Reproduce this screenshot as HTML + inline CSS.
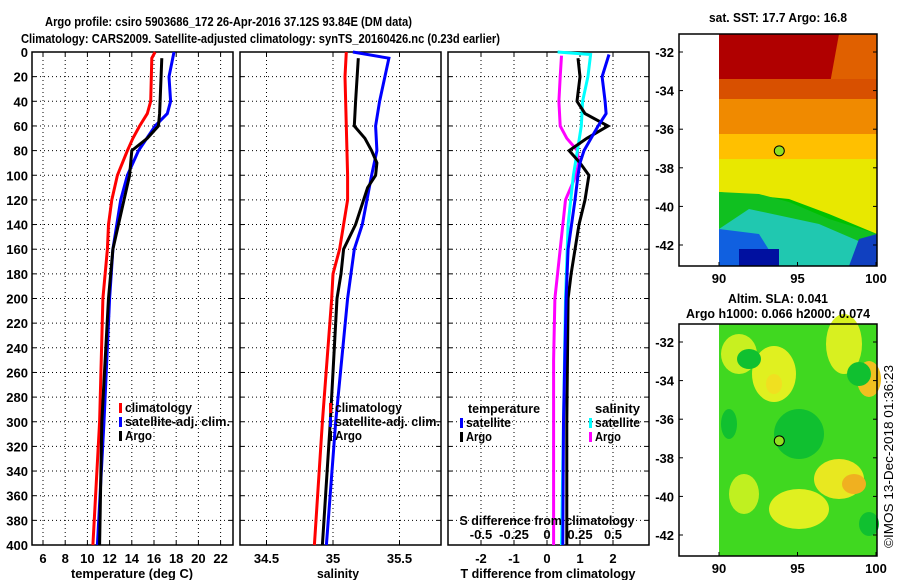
<!DOCTYPE html>
<html><head><meta charset="utf-8"><style>
html,body{margin:0;padding:0;background:#fff;}
svg{display:block;font-family:"Liberation Sans",Arial,sans-serif;}
text{font-size:13px;font-weight:bold;fill:#000;}
</style></head><body>
<svg id="fig" width="900" height="580" viewBox="0 0 900 580" xmlns="http://www.w3.org/2000/svg">
<text x="45" y="26" textLength="367" lengthAdjust="spacingAndGlyphs">Argo profile: csiro 5903686_172 26-Apr-2016 37.12S 93.84E (DM data)</text>
<text x="21" y="43" textLength="479" lengthAdjust="spacingAndGlyphs">Climatology: CARS2009. Satellite-adjusted climatology: synTS_20160426.nc (0.23d earlier)</text>
<g id="maps"></g>
<g id="plots"></g>
</svg>
<script>
// ---- data ----
const depthTicks=[0,20,40,60,80,100,120,140,160,180,200,220,240,260,280,300,320,340,360,380,400];
const tTicks=[6,8,10,12,14,16,18,20,22];
const sTicks=[34.5,35,35.5];
const dTTicks=[-2,-1,0,1,2];
const dSTicks=[-0.5,-0.25,0,0.25,0.5];
const dSTickLabels=["-0.5","-0.25","0","0.25","0.5"];
const tClimDepth=[0,5,40,50,60,70,80,100,120,140,160,200,300,400];
const tClim=[16.1,15.8,15.7,15.4,14.7,14.1,13.6,12.7,12.2,11.9,11.8,11.4,11.1,10.5];
const tArgoDepth=[5,50,60,70,80,100,120,160,200,300,400];
const tArgo=[16.7,16.5,16.4,15.4,14.0,13.8,13.3,12.3,11.9,11.3,11.1];
const tSatDepth=[0,20,40,50,60,80,100,120,160,200,300,400];
const tSat=[17.8,17.35,17.5,17.2,16.1,14.6,13.6,13.0,12.3,12.0,11.5,10.9];
const sClimDepth=[0,20,100,120,160,180,200,300,400];
const sClim=[35.10,35.09,35.11,35.11,35.05,35.0,34.99,34.92,34.86];
const sArgoDepth=[5,40,60,70,80,90,100,110,140,160,180,200,300,400];
const sArgo=[35.19,35.17,35.16,35.24,35.29,35.33,35.32,35.26,35.17,35.08,35.06,35.03,34.98,34.92];
const sSatDepth=[0,5,20,40,60,80,100,140,160,200,300,400];
const sSat=[35.15,35.42,35.39,35.35,35.32,35.33,35.29,35.22,35.16,35.11,35.02,34.95];
const dTSatDepth=[2,20,40,50,60,80,90,100,120,160,200,300,400];
const dTSat=[1.88,1.67,1.76,1.79,1.55,1.12,1.0,0.94,0.85,0.64,0.58,0.5,0.48];
const dTArgoDepth=[5,20,40,50,60,70,80,90,100,120,140,180,200,300,400];
const dTArgo=[0.94,1.0,0.91,1.15,1.85,1.21,0.67,1.0,1.27,1.15,0.97,0.73,0.64,0.6,0.6];
const dSSatDepth=[0,2,20,40,60,80,100,140,200,400];
const dSSat=[0.08,0.33,0.31,0.27,0.26,0.23,0.2,0.16,0.14,0.11];
const dSArgoDepth=[3,20,40,60,70,80,90,100,120,160,200,250,400];
const dSArgo=[0.11,0.10,0.09,0.10,0.15,0.23,0.24,0.22,0.14,0.10,0.06,0.05,0.05];
const latTicks=[-32,-34,-36,-38,-40,-42];
const lonTicks=[90,95,100];

const NS="http://www.w3.org/2000/svg";
function mk(parent,tag,attrs,txt){const e=document.createElementNS(NS,tag);for(const k in attrs)e.setAttribute(k,attrs[k]);if(txt!==undefined)e.textContent=txt;parent.appendChild(e);return e;}
const plots=document.getElementById('plots');
const Y0=52, Y1=545;
const yD=d=>Y0+(d/400)*(Y1-Y0);
const xT=v=>43+(v-6)*11.1;
const xS=v=>333+(v-35)*133;
const xDT=v=>547+v*33;
const xDS=v=>547+v*132;

function panel(name,x0,x1,vTicksPx){
  const g=mk(plots,'g',{});
  
  
  depthTicks.forEach(d=>{const y=yD(d);
    if(d>0&&d<400){const l=mk(g,'line',{x1:x0,x2:x1,y1:y,y2:y,stroke:'#000','stroke-width':1,'stroke-dasharray':'1,3'});}
    mk(g,'line',{x1:x0,x2:x0+4,y1:y,y2:y,stroke:'#000'});mk(g,'line',{x1:x1-4,x2:x1,y1:y,y2:y,stroke:'#000'});
  });
  vTicksPx.forEach(x=>{const l=mk(g,'line',{x1:x,x2:x,y1:Y0,y2:Y1,stroke:'#000','stroke-width':1,'stroke-dasharray':'1,3'});
    mk(g,'line',{x1:x,x2:x,y1:Y1,y2:Y1-4,stroke:'#000'});mk(g,'line',{x1:x,x2:x,y1:Y0,y2:Y0+4,stroke:'#000'});});
  const r=mk(g,'rect',{x:x0,y:Y0,width:x1-x0,height:Y1-Y0,fill:'none',stroke:'#000','stroke-width':1.5});
  
  return g;
}
function line(g,name,depths,vals,xf,color){
  const pts=depths.map((d,i)=>xf(vals[i]).toFixed(1)+','+yD(d).toFixed(1)).join(' ');
  const p=mk(g,'polyline',{points:pts,fill:'none',stroke:color,'stroke-width':3,'stroke-linejoin':'miter'});
  
  
}
function txt(g,name,x,y,s,anchor,w){const a={x:x,y:y,'text-anchor':anchor||'start'};if(w){a.textLength=w;a.lengthAdjust='spacingAndGlyphs';}
  const t=mk(g,'text',a,s);return t;}
function legend(g,x,y,color,label,w){mk(g,'rect',{x:x,y:y-9,width:3,height:10,fill:color});txt(g,'legend-'+label.replace(/[^a-z]+/gi,'-').toLowerCase(),x+6,y,label,'start',w);}

depthTicks.forEach(d=>{txt(plots,'depth-label',28,yD(d)+5,String(d),'end');});

const g1=panel('temperature-panel',32,233,tTicks.map(xT));
tTicks.forEach(v=>txt(g1,'temp-tick-label',xT(v),563,String(v),'middle'));
txt(g1,'temperature-axis-title',132,578,'temperature (deg C)','middle',122);
line(g1,'temp-climatology-line',tClimDepth,tClim,xT,'#ff0000');
line(g1,'temp-satellite-line',tSatDepth,tSat,xT,'#0000ff');
line(g1,'temp-argo-line',tArgoDepth,tArgo,xT,'#000000');
legend(g1,119,412,'#ff0000','climatology',67);
legend(g1,119,426,'#0000ff','satellite-adj. clim.',105);
legend(g1,119,440,'#000000','Argo',27);

const g2=panel('salinity-panel',240,441,sTicks.map(xS));
sTicks.forEach(v=>txt(g2,'sal-tick-label',xS(v),563,String(v),'middle'));
txt(g2,'salinity-axis-title',338,578,'salinity','middle',42);
line(g2,'sal-climatology-line',sClimDepth,sClim,xS,'#ff0000');
line(g2,'sal-satellite-line',sSatDepth,sSat,xS,'#0000ff');
line(g2,'sal-argo-line',sArgoDepth,sArgo,xS,'#000000');
legend(g2,329,412,'#ff0000','climatology',67);
legend(g2,329,426,'#0000ff','satellite-adj. clim.',105);
legend(g2,329,440,'#000000','Argo',27);

const g3=panel('difference-panel',448,649,dTTicks.map(xDT));
dTTicks.forEach(v=>txt(g3,'dT-tick-label',xDT(v),563,String(v),'middle'));
txt(g3,'dT-axis-title',548,578,'T difference from climatology','middle',175);
line(g3,'dS-argo-line',dSArgoDepth,dSArgo,xDS,'#ff00ff');
line(g3,'dS-satellite-line',dSSatDepth,dSSat,xDS,'#00ffff');
line(g3,'dT-argo-line',dTArgoDepth,dTArgo,xDT,'#000000');
line(g3,'dT-satellite-line',dTSatDepth,dTSat,xDT,'#0000ff');
txt(g3,'dS-axis-title',547,525,'S difference from climatology','middle',175);
dSTicks.forEach((v,i)=>txt(g3,'dS-tick-label',xDS(v),539,dSTickLabels[i],'middle'));
txt(g3,'legend-temperature-title',468,413,'temperature','start',72);
legend(g3,460,427,'#0000ff','satellite',45);
legend(g3,460,441,'#000000','Argo',26);
txt(g3,'legend-salinity-title',595,413,'salinity','start',45);
legend(g3,589,427,'#00ffff','satellite',45);
legend(g3,589,441,'#ff00ff','Argo',26);

const maps=document.getElementById('maps');
function mapBox(name,top,title,titleW,titleY,title2,bands){
  const g=mk(maps,'g',{});
  const X0=679,X1=877,H=232;
  const latY=l=>top+18+(-32-l)*19.3;
  const lonX=l=>719+(l-90)*15.7;
  bands(g,top);
  mk(g,'rect',{x:X0,y:top,width:X1-X0,height:H,fill:'none',stroke:'#000','stroke-width':1.5});
  latTicks.forEach(l=>{const y=latY(l);mk(g,'line',{x1:X0,x2:X0+4,y1:y,y2:y,stroke:'#000'});mk(g,'line',{x1:X1-4,x2:X1,y1:y,y2:y,stroke:'#000'});txt(g,'lat-label',674,y+5,String(l),'end');});
  lonTicks.forEach(l=>{const x=lonX(l);mk(g,'line',{x1:x,x2:x,y1:top+H,y2:top+H-4,stroke:'#000'});txt(g,'lon-label',x,top+H+17,String(l),'middle');});
  const c=mk(g,'circle',{cx:lonX(93.84),cy:latY(-37.12),r:5,fill:'#90e020',stroke:'#000','stroke-width':1});
  
  txt(g,'map-title',778,titleY,title,'middle',titleW);
  if(title2) txt(g,'map-title-2',778,titleY+15,title2,'middle',184);
}
mapBox('sst-map',34,'sat. SST: 17.7 Argo: 16.8',138,22,null,(g,t)=>{
  const x=719,w=158;
  mk(g,'rect',{x:x,y:t,width:w,height:232,fill:'#00c000'});
  mk(g,'rect',{x:x,y:t,width:w,height:45,fill:'#b00000'});
  mk(g,'polygon',{points:`${x+120},${t} ${x+158},${t} ${x+158},${t+60} ${x+110},${t+55}`,fill:'#e06000'});
  mk(g,'rect',{x:x,y:t+45,width:w,height:20,fill:'#d85000'});
  mk(g,'rect',{x:x,y:t+65,width:w,height:35,fill:'#f08a00'});
  mk(g,'rect',{x:x,y:t+100,width:w,height:25,fill:'#ffc000'});
  mk(g,'polygon',{points:`${x},${t+125} ${x+158},${t+125} ${x+158},${t+200} ${x+110},${t+180} ${x+70},${t+165} ${x},${t+158}`,fill:'#e8e800'});
  mk(g,'polygon',{points:`${x},${t+158} ${x+40},${t+160} ${x+70},${t+168} ${x+110},${t+185} ${x+158},${t+200} ${x+158},${t+220} ${x},${t+210}`,fill:'#10c020'});
  mk(g,'polygon',{points:`${x+30},${t+175} ${x+100},${t+190} ${x+158},${t+215} ${x+158},${t+232} ${x+40},${t+232} ${x},${t+210} ${x},${t+195}`,fill:'#20c8b0'});
  mk(g,'polygon',{points:`${x},${t+195} ${x+40},${t+200} ${x+60},${t+232} ${x},${t+232}`,fill:'#1060e0'});
  mk(g,'polygon',{points:`${x+130},${t+232} ${x+140},${t+205} ${x+158},${t+200} ${x+158},${t+232}`,fill:'#1040c0'});
  mk(g,'rect',{x:x+20,y:t+215,width:40,height:17,fill:'#0010a0'});
});
mapBox('sla-map',324,'Altim. SLA: 0.041',100,303,'Argo h1000: 0.066 h2000: 0.074',(g,t)=>{
  const x=719,w=158;
  mk(g,'rect',{x:x,y:t,width:w,height:232,fill:'#40d820'});
  const blobs=[[20,30,18,20,'#c8f020'],[55,50,22,28,'#e0f020'],[125,20,18,30,'#d8f020'],[150,55,12,18,'#f0c020'],[120,155,25,20,'#e8e820'],[135,160,12,10,'#f0b020'],[80,185,30,20,'#e0f020'],[25,170,15,20,'#c0f020'],[55,60,8,10,'#f0e020']];
  blobs.forEach(b=>mk(g,'ellipse',{cx:x+b[0],cy:t+b[1],rx:b[2],ry:b[3],fill:b[4]}));
  [[30,35,12,10],[80,110,25,25],[140,50,12,12],[10,100,8,15],[150,200,10,12]].forEach(b=>mk(g,'ellipse',{cx:x+b[0],cy:t+b[1],rx:b[2],ry:b[3],fill:'#10c030'}));
});
const imos=txt(maps,'imos-timestamp',0,0,'©IMOS 13-Dec-2018 01:36:23','start',183);
imos.setAttribute('transform','translate(893,548) rotate(-90)');
imos.setAttribute('style','font-weight:normal');
</script>
</body></html>
